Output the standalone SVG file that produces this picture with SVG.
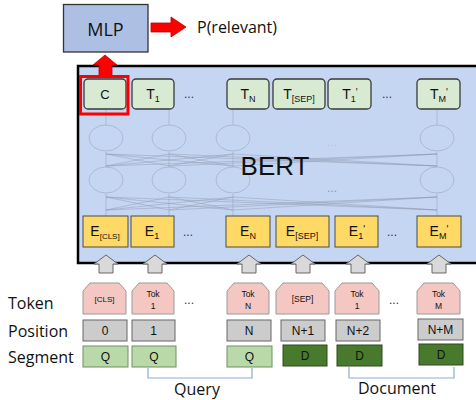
<svg xmlns="http://www.w3.org/2000/svg" width="476" height="400" viewBox="0 0 476 400">
<defs>
<style>
.lbl{font-family:"Open Sans","Liberation Sans",sans-serif;fill:#111}
.t{font-family:"Liberation Sans",Arial,sans-serif;fill:#111;text-anchor:middle}
.tbox{fill:#d9ead3;stroke:#3a3a3a;stroke-width:1.3}
.ebox{fill:#ffd966;stroke:#4a4a4a;stroke-width:1}
.tok{fill:#f4c7c3;stroke:#9a9a9a;stroke-width:1}
.pos{fill:#cccccc;stroke:#666;stroke-width:1}
.q{fill:#b9d9a9;stroke:#6f8f60;stroke-width:1}
.d{fill:#477a2c;stroke:#2e4a20;stroke-width:1}
.up{fill:#d9d9d9;stroke:#666;stroke-width:1}
.net{stroke:#8b96ad;stroke-opacity:0.45;fill:none;stroke-width:1}
.brk{fill:none;stroke:#8eaadb;stroke-width:1.2}
.dots{font-family:"Liberation Sans",Arial,sans-serif;font-size:12px;fill:#333;text-anchor:middle}
</style>
</defs>
<rect width="476" height="400" fill="#fff"/>

<g id="bert">
<rect x="78" y="66" width="420" height="197" fill="#c5d6f2" stroke="#000" stroke-width="2.5"/>
</g>

<g id="network">
<g class="net">
<ellipse cx="106" cy="138" rx="17" ry="13"/>
<ellipse cx="169" cy="138" rx="17" ry="13"/>
<ellipse cx="233" cy="138" rx="17" ry="13"/>
<ellipse cx="437" cy="138" rx="17" ry="13"/>
<ellipse cx="106" cy="180" rx="17" ry="13"/>
<ellipse cx="169" cy="180" rx="17" ry="13"/>
<ellipse cx="233" cy="180" rx="17" ry="13"/>
<ellipse cx="437" cy="180" rx="17" ry="13"/>
<path d="M106 125V110M169 125V110M233 125V110M437 125V110"/>
<path d="M106 167V152M169 167V152M233 167V152M437 167V152"/>
<path d="M106 216V194M169 216V194M233 216V194M437 216V194"/>
<path d="M106 166L169 154M106 166L233 154M106 166L437 154M169 166L106 154M169 166L233 154M169 166L437 154M233 166L106 154M233 166L169 154M233 166L437 154M437 166L106 154M437 166L169 154M437 166L233 154"/>
<path d="M106 210L169 197M106 210L233 197M106 210L437 197M169 210L106 197M169 210L233 197M169 210L437 197M233 210L106 197M233 210L169 197M233 210L437 197M437 210L106 197M437 210L169 197M437 210L233 197"/>
</g>
<text x="332" y="146" class="dots" fill-opacity="0.3" style="fill:#8b96ad">...</text>
<text x="332" y="192" class="dots" style="fill:#8b96ad">...</text>
<text x="275" y="175" font-family="Liberation Sans,Arial,sans-serif" font-size="26" text-anchor="middle" fill="#111">BERT</text>
</g>

<g id="connectors">
<polygon points="151,23 171,23 171,17 186,27 171,37 171,32 151,32" fill="#f00" stroke="#b00" stroke-width="0.8"/>
<polygon points="105,55 117,65 112,65 112,77 99,77 99,65 93,65" fill="#f00" stroke="#b00" stroke-width="0.8"/>
<polygon class="up" points="106,255 118,264 113,264 113,273 99,273 99,264 94,264"/>
<polygon class="up" points="155,255 167,264 162,264 162,273 148,273 148,264 143,264"/>
<polygon class="up" points="249,255 261,264 256,264 256,273 242,273 242,264 237,264"/>
<polygon class="up" points="303,255 315,264 310,264 310,273 296,273 296,264 291,264"/>
<polygon class="up" points="358,255 370,264 365,264 365,273 351,273 351,264 346,264"/>
<polygon class="up" points="439,255 451,264 446,264 446,273 432,273 432,264 427,264"/>
<path class="brk" d="M148 368V378H252V368"/>
<path class="brk" d="M349 367V378H454V367"/>
</g>

<g id="mlp">
<rect x="63.5" y="4.5" width="84.5" height="47.5" fill="#adc0e3" stroke="#333" stroke-width="1.3"/>
<text x="105.5" y="36" class="lbl" font-size="18" text-anchor="middle">MLP</text>
</g>
<g id="prel"><text x="197" y="33" class="lbl" font-size="16">P(relevant)</text></g>

<g id="outputs">
<g id="t-c"><rect class="tbox" x="84" y="79" width="42" height="30" rx="4"/><text class="t" x="105" y="99" font-size="13">C</text></g>
<g id="t-1"><rect class="tbox" x="132" y="79" width="42" height="30" rx="4"/><text class="t" x="153" y="99" font-size="14">T<tspan font-size="9" dy="3">1</tspan></text></g>
<text class="dots" x="189" y="98">...</text>
<g id="t-n"><rect class="tbox" x="227" y="79" width="42" height="30" rx="4"/><text class="t" x="248" y="99" font-size="14">T<tspan font-size="9" dy="3">N</tspan></text></g>
<g id="t-sep"><rect class="tbox" x="273" y="79" width="52" height="30" rx="4"/><text class="t" x="299" y="99" font-size="14">T<tspan font-size="9" dy="3">[SEP]</tspan></text></g>
<g id="t-1p"><rect class="tbox" x="328" y="79" width="43" height="30" rx="4"/><text class="t" x="350" y="99" font-size="14">T<tspan font-size="9" dy="3">1</tspan><tspan font-size="10" dy="-6">'</tspan></text></g>
<text class="dots" x="387" y="98">...</text>
<g id="t-mp"><rect class="tbox" x="417" y="79" width="43" height="30" rx="4"/><text class="t" x="439" y="99" font-size="14">T<tspan font-size="9" dy="3">M</tspan><tspan font-size="10" dy="-6">'</tspan></text></g>
<rect x="80.5" y="76.5" width="47.5" height="37.5" fill="none" stroke="#f00" stroke-width="3"/>
</g>

<g id="embeddings">
<g id="e-cls"><rect class="ebox" x="83" y="216" width="45" height="31"/><text class="t" x="105" y="236" font-size="14">E<tspan font-size="8" dy="3">[CLS]</tspan></text></g>
<g id="e-1"><rect class="ebox" x="131" y="216" width="43" height="31"/><text class="t" x="152" y="236" font-size="14">E<tspan font-size="9" dy="3">1</tspan></text></g>
<text class="dots" x="188" y="236">...</text>
<g id="e-n"><rect class="ebox" x="226" y="216" width="44" height="31"/><text class="t" x="248" y="236" font-size="14">E<tspan font-size="9" dy="3">N</tspan></text></g>
<g id="e-sep"><rect class="ebox" x="276" y="216" width="53" height="31"/><text class="t" x="302" y="236" font-size="14">E<tspan font-size="9" dy="3">[SEP]</tspan></text></g>
<g id="e-1p"><rect class="ebox" x="335" y="216" width="43" height="31"/><text class="t" x="357" y="236" font-size="14">E<tspan font-size="9" dy="3">1</tspan><tspan font-size="10" dy="-6">'</tspan></text></g>
<text class="dots" x="392" y="236">...</text>
<g id="e-mp"><rect class="ebox" x="417" y="216" width="44" height="31"/><text class="t" x="439" y="236" font-size="14">E<tspan font-size="9" dy="3">M</tspan><tspan font-size="10" dy="-6">'</tspan></text></g>
</g>

<g id="row-labels">
<text class="lbl" x="8" y="309" font-size="16">Token</text>
<text class="lbl" x="8" y="337" font-size="16">Position</text>
<text class="lbl" x="8" y="363" font-size="16">Segment</text>
<text class="lbl" x="197" y="395" font-size="16" text-anchor="middle">Query</text>
<text class="lbl" x="397" y="394" font-size="16" text-anchor="middle">Document</text>
</g>

<g id="tokens">
<g id="tok-cls"><path class="tok" d="M83 314V291L90 283H119L126 291V314Z"/><text class="t" x="104.5" y="302" font-size="8">[CLS]</text></g>
<g id="tok-1"><path class="tok" d="M132 314V291L139 283H167L174 291V314Z"/><text class="t" x="153" y="297" font-size="8.5">Tok</text><text class="t" x="153" y="309" font-size="8.5">1</text></g>
<text class="dots" x="189" y="304">...</text>
<g id="tok-n"><path class="tok" d="M227 314V291L234 283H262L269 291V314Z"/><text class="t" x="248" y="297" font-size="8.5">Tok</text><text class="t" x="248" y="309" font-size="8.5">N</text></g>
<g id="tok-sep"><path class="tok" d="M276 314V291L283 283H322L329 291V314Z"/><text class="t" x="302.5" y="302" font-size="8.5">[SEP]</text></g>
<g id="tok-1d"><path class="tok" d="M335 314V291L342 283H372L379 291V314Z"/><text class="t" x="357" y="297" font-size="8.5">Tok</text><text class="t" x="357" y="309" font-size="8.5">1</text></g>
<text class="dots" x="394" y="304">...</text>
<g id="tok-m"><path class="tok" d="M417 314V291L424 283H453L460 291V314Z"/><text class="t" x="438.5" y="297" font-size="8.5">Tok</text><text class="t" x="438.5" y="309" font-size="8.5">M</text></g>
</g>

<g id="positions">
<g id="p-0"><rect class="pos" x="83" y="320" width="44" height="21"/><text class="t" x="105" y="335" font-size="12">0</text></g>
<g id="p-1"><rect class="pos" x="132" y="320" width="43" height="21"/><text class="t" x="153.5" y="335" font-size="12">1</text></g>
<g id="p-n"><rect class="pos" x="227" y="320" width="44" height="21"/><text class="t" x="249" y="335" font-size="12">N</text></g>
<g id="p-n1"><rect class="pos" x="281" y="320" width="44" height="21"/><text class="t" x="303" y="335" font-size="12">N+1</text></g>
<g id="p-n2"><rect class="pos" x="336" y="320" width="44" height="21"/><text class="t" x="358" y="335" font-size="12">N+2</text></g>
<g id="p-nm"><rect class="pos" x="418" y="319" width="45" height="21"/><text class="t" x="440.5" y="334" font-size="12">N+M</text></g>
</g>

<g id="segments">
<g id="s-q0"><rect class="q" x="83" y="346" width="45" height="21"/><text class="t" x="105.5" y="361" font-size="12">Q</text></g>
<g id="s-q1"><rect class="q" x="132" y="346" width="44" height="21"/><text class="t" x="154" y="361" font-size="12">Q</text></g>
<g id="s-qn"><rect class="q" x="227" y="346" width="45" height="21"/><text class="t" x="249.5" y="361" font-size="12">Q</text></g>
<g id="s-d1"><rect class="d" x="283" y="345" width="44" height="21"/><text class="t" x="305" y="360" font-size="12">D</text></g>
<g id="s-d2"><rect class="d" x="337" y="345" width="45" height="21"/><text class="t" x="359.5" y="360" font-size="12">D</text></g>
<g id="s-d3"><rect class="d" x="419" y="344" width="44" height="21"/><text class="t" x="441" y="359" font-size="12">D</text></g>
</g>
</svg>
